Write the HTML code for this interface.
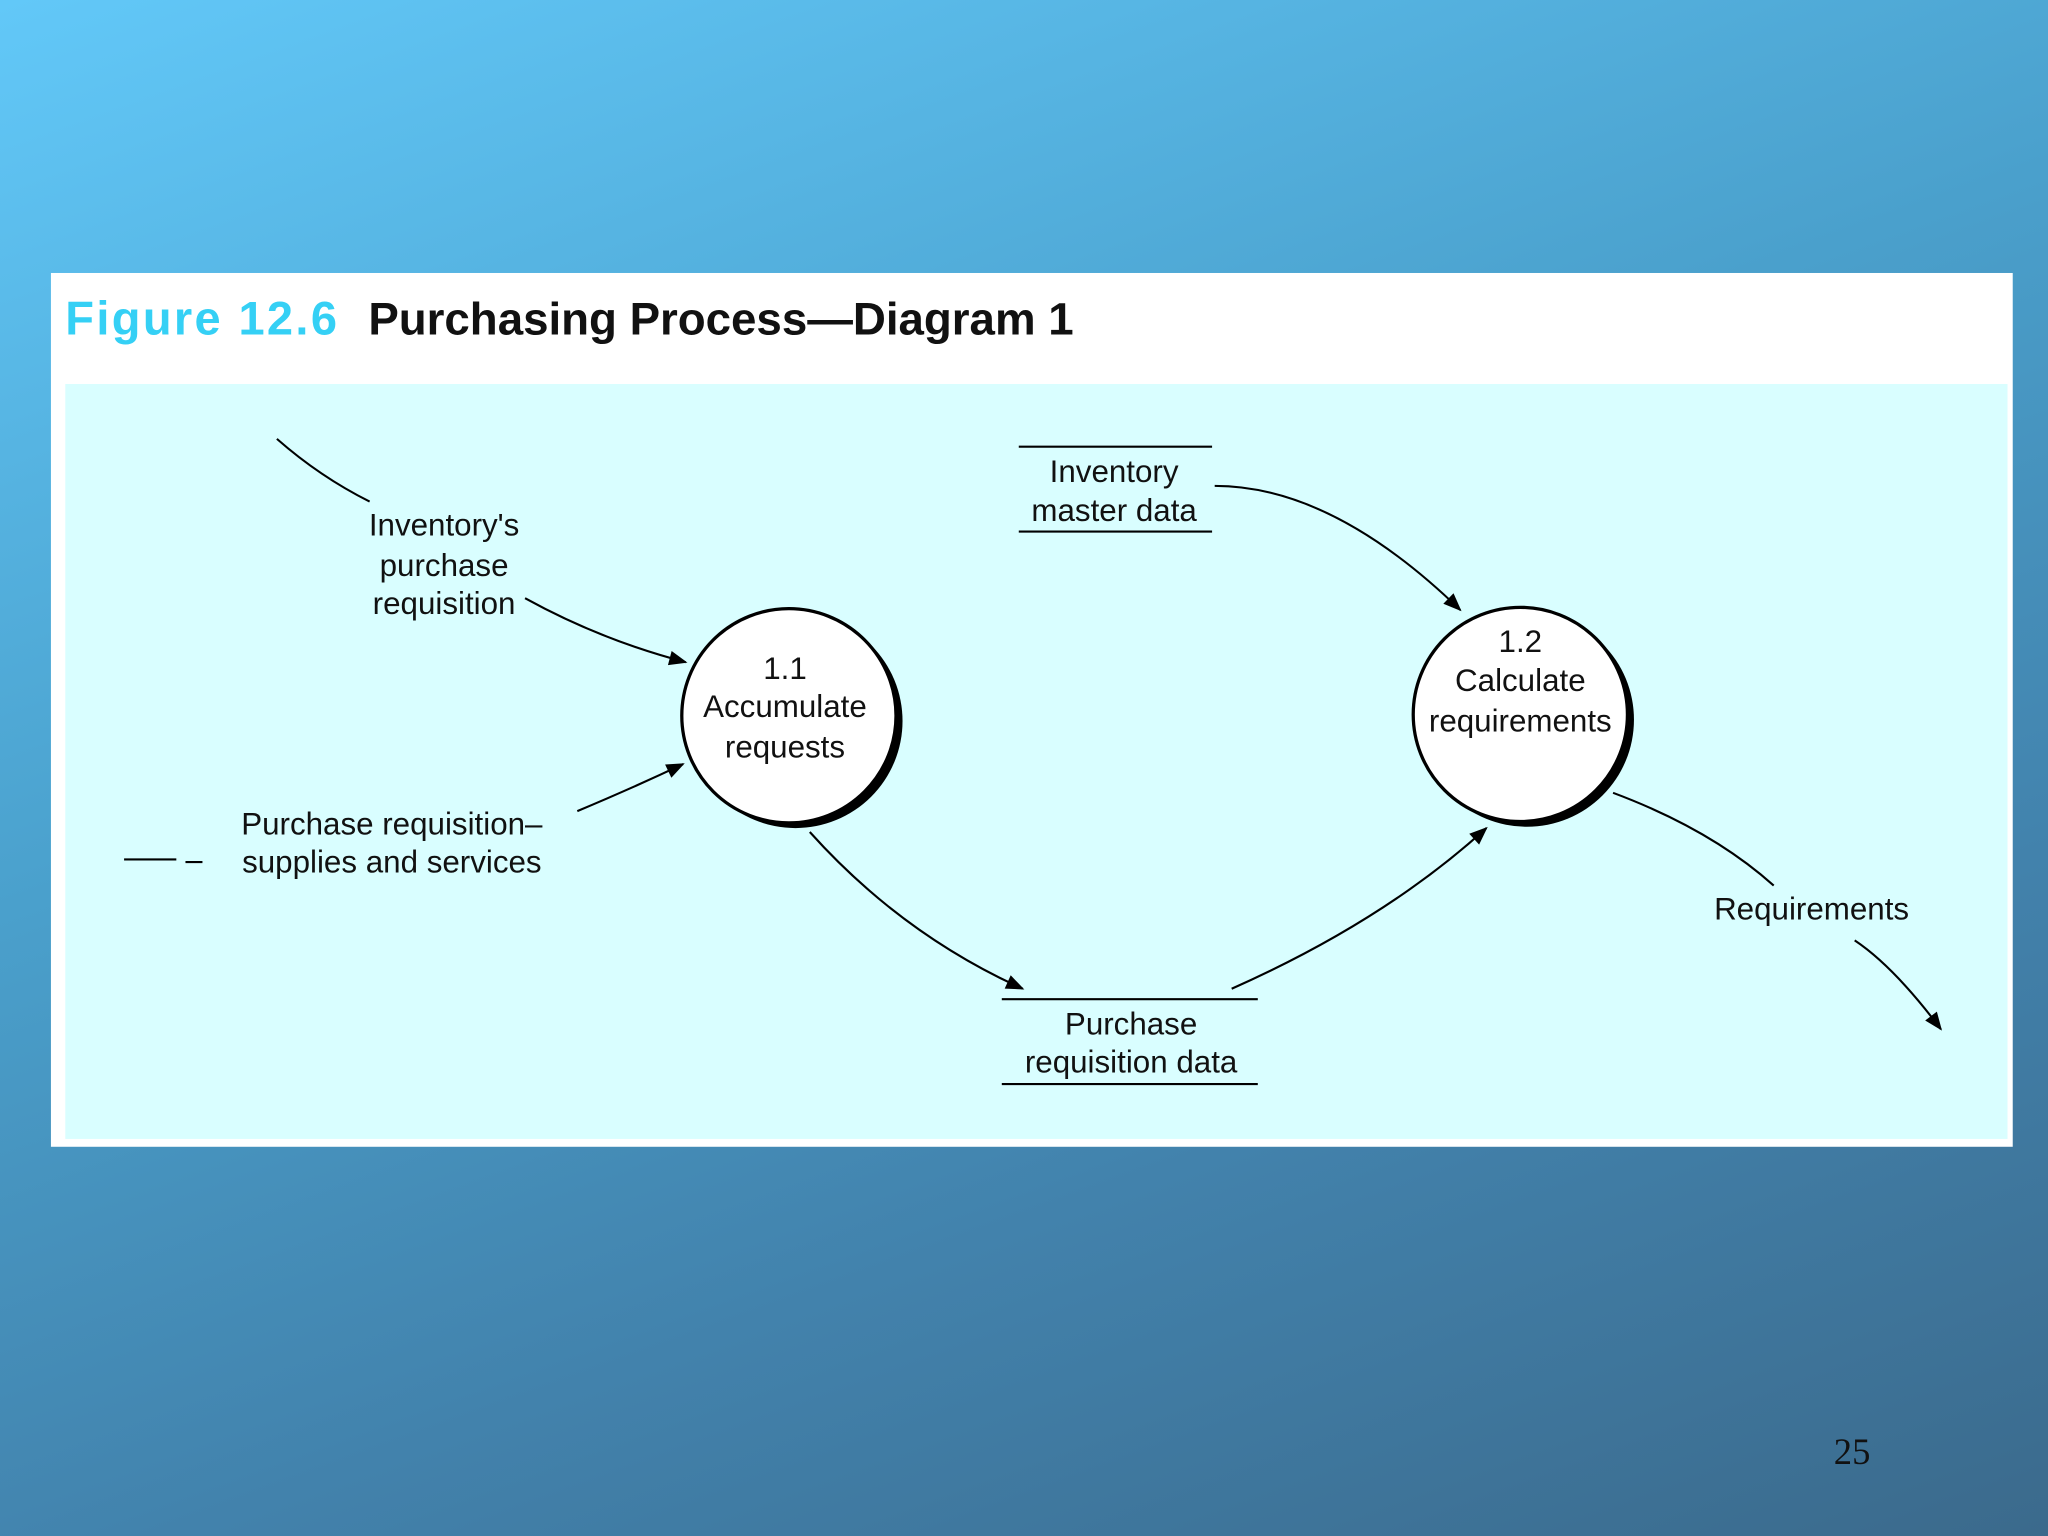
<!DOCTYPE html>
<html><head><meta charset="utf-8"><style>
html,body{margin:0;padding:0;width:2048px;height:1536px;overflow:hidden}
body{background:linear-gradient(160deg,#62c8f8 0%,#4aa0cc 40%,#4282ac 70%,#3b6a8c 100%)}
svg{display:block}
</style></head><body>
<svg width="2048" height="1536" viewBox="0 0 1568 1176" xmlns="http://www.w3.org/2000/svg">
<defs>
<marker id="b" viewBox="0 0 10 10" refX="9" refY="5" markerWidth="20" markerHeight="14" orient="auto" markerUnits="userSpaceOnUse"><path d="M0,1 L10,5 L0,9 z" fill="#000"/></marker>
</defs>
<rect x="39" y="209" width="1502" height="669" fill="#fff"/>
<rect x="50" y="294" width="1487" height="578" fill="#d9feff"/>
<text x="50" y="256" font-family="Liberation Sans, sans-serif" font-weight="bold" font-size="36" fill="#35d0f5" textLength="208">Figure 12.6</text>
<text x="282" y="256" font-family="Liberation Sans, sans-serif" font-weight="bold" font-size="35" fill="#111" textLength="540">Purchasing Process—Diagram 1</text>
<!-- circles with shadow -->
<circle cx="609" cy="552" r="82" fill="#000"/>
<circle cx="604" cy="548" r="82" fill="#fff" stroke="#000" stroke-width="2.5"/>
<circle cx="1169" cy="551" r="82" fill="#000"/>
<circle cx="1164" cy="547" r="82" fill="#fff" stroke="#000" stroke-width="2.5"/>
<g font-family="Liberation Sans, sans-serif" font-size="24" fill="#111" text-anchor="middle">
<text x="340" y="410">Inventory's</text>
<text x="340" y="441">purchase</text>
<text x="340" y="470">requisition</text>
<text x="300" y="639">Purchase requisition–</text>
<text x="300" y="668">supplies and services</text>
<text x="853" y="369">Inventory</text>
<text x="853" y="399">master data</text>
<text x="866" y="792">Purchase</text>
<text x="866" y="821">requisition data</text>
<text x="1387" y="704">Requirements</text>
<text x="601" y="520">1.1</text>
<text x="601" y="549">Accumulate</text>
<text x="601" y="580">requests</text>
<text x="1164" y="499">1.2</text>
<text x="1164" y="529">Calculate</text>
<text x="1164" y="560">requirements</text>
</g>
<g stroke="#000" stroke-width="1.6" fill="none">
<line x1="780" y1="342" x2="928" y2="342"/><line x1="780" y1="407" x2="928" y2="407"/>
<line x1="767" y1="765" x2="963" y2="765"/><line x1="767" y1="830" x2="963" y2="830"/>
<path d="M212,336 Q245,365 283,384"/>
<path d="M402,458 Q460,490 525,507" marker-end="url(#b)"/>
<path d="M442,621 Q485,603 523,585" marker-end="url(#b)"/>
<path d="M95,658 L135,658 M142,660 L155,660"/>
<path d="M930,372 Q1020,372 1118,467" marker-end="url(#b)"/>
<path d="M620,637 Q690,715 783,757" marker-end="url(#b)"/>
<path d="M943,757 Q1060,705 1138,634" marker-end="url(#b)"/>
<path d="M1235,607 Q1310,635 1358,678"/>
<path d="M1420,720 Q1450,740 1486,788" marker-end="url(#b)"/>
</g>
<text x="1418" y="1121" font-family="Liberation Serif, serif" font-size="28" fill="#111" text-anchor="middle">25</text>
</svg>
</body></html>
